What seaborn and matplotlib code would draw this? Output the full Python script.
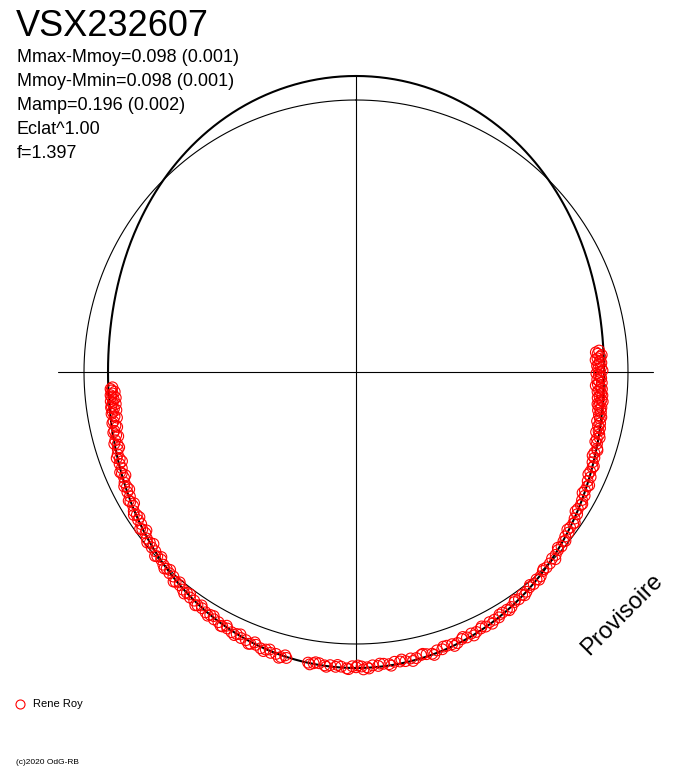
import numpy as np
import pandas as pd
import matplotlib.pyplot as plt
import seaborn as sns

etoile = 'VSX232607'
infos = ['Mmax-Mmoy=0.098 (0.001)', 'Mmoy-Mmin=0.098 (0.001)', 'Mamp=0.196 (0.002)',
         'Eclat^1.00', 'f=1.397']
mmax_mmoy = 0.098
mmoy_mmin = 0.098
observateur = 'Rene Roy'
copyright_txt = '(c)2020 OdG-RB'

# phase (0 en haut, sens horaire) et ecart a la magnitude moyenne (positif = plus brillant)
phases = [
    0.236, 0.238, 0.240, 0.241, 0.243, 0.245, 0.247, 0.248, 0.250, 0.252,
    0.254, 0.256, 0.258, 0.260, 0.262, 0.264, 0.266, 0.268, 0.270, 0.272,
    0.274, 0.276, 0.278, 0.280, 0.283, 0.285, 0.288, 0.290, 0.293, 0.296,
    0.299, 0.302, 0.305, 0.308, 0.311, 0.314, 0.317, 0.320, 0.323, 0.326,
    0.329, 0.332, 0.335, 0.338, 0.341, 0.344, 0.347, 0.350, 0.353, 0.356,
    0.359, 0.362, 0.365, 0.368, 0.371, 0.374, 0.377, 0.380, 0.383, 0.386,
    0.389, 0.392, 0.395, 0.398, 0.401, 0.404, 0.407, 0.410, 0.413, 0.416,
    0.419, 0.422, 0.425, 0.428, 0.431, 0.434, 0.437, 0.440, 0.443, 0.446,
    0.449, 0.452, 0.455, 0.458, 0.461, 0.464, 0.467, 0.470, 0.473, 0.476,
    0.479, 0.482, 0.485, 0.488, 0.491, 0.494, 0.496, 0.497, 0.500, 0.502,
    0.505, 0.508, 0.511, 0.514, 0.517, 0.520, 0.523, 0.526,
    0.538, 0.541, 0.544, 0.547, 0.550, 0.553, 0.556, 0.559, 0.562, 0.565,
    0.568, 0.571, 0.574, 0.577, 0.580, 0.583, 0.586, 0.589, 0.592, 0.595,
    0.598, 0.601, 0.604, 0.607, 0.610, 0.613, 0.616, 0.619, 0.622, 0.625,
    0.628, 0.631, 0.634, 0.637, 0.640, 0.643, 0.646, 0.649, 0.652, 0.655,
    0.658, 0.661, 0.664, 0.667, 0.670, 0.673, 0.676, 0.679, 0.682, 0.685,
    0.688, 0.691, 0.694, 0.697, 0.700, 0.703, 0.706, 0.709, 0.712, 0.715,
    0.718, 0.721, 0.724, 0.726, 0.728, 0.730, 0.732, 0.734, 0.736, 0.738,
    0.740,
    # deuxieme serie de nuits
    0.237, 0.239, 0.242, 0.244, 0.246, 0.249, 0.251, 0.253, 0.255, 0.257,
    0.259, 0.261, 0.263, 0.265, 0.267, 0.269, 0.271, 0.273, 0.275, 0.279,
    0.282, 0.286, 0.289, 0.292, 0.295, 0.300, 0.304, 0.310, 0.316, 0.322,
    0.328, 0.334, 0.340, 0.346, 0.352, 0.358, 0.364, 0.370, 0.379, 0.385,
    0.391, 0.397, 0.403, 0.409, 0.415, 0.421, 0.427, 0.433, 0.439, 0.445,
    0.451, 0.457, 0.463, 0.469, 0.475, 0.481, 0.487, 0.493, 0.499, 0.504,
    0.510, 0.516, 0.522, 0.525,
    0.539, 0.542, 0.548, 0.551, 0.557, 0.560, 0.566, 0.569, 0.575, 0.578,
    0.584, 0.587, 0.593, 0.596, 0.602, 0.605, 0.611, 0.614, 0.620, 0.623,
    0.629, 0.632, 0.638, 0.641, 0.647, 0.650, 0.656, 0.659, 0.665, 0.668,
    0.674, 0.677, 0.683, 0.686, 0.692, 0.695, 0.701, 0.704, 0.708, 0.711,
    0.714, 0.717, 0.720, 0.723, 0.725, 0.727, 0.729, 0.731, 0.733, 0.735,
    0.737, 0.739,
]
delta_mag = [
    -0.114, -0.121, -0.111, -0.123, -0.114, -0.120, -0.110, -0.122, -0.115, -0.119,
    -0.109, -0.117, -0.122, -0.110, -0.115, -0.106, -0.111, -0.102, -0.107, -0.111,
    -0.102, -0.097, -0.103, -0.097, -0.092, -0.098, -0.091, -0.085, -0.090, -0.084,
    -0.077, -0.083, -0.076, -0.077, -0.069, -0.071, -0.061, -0.065, -0.057, -0.058,
    -0.049, -0.050, -0.044, -0.046, -0.037, -0.036, -0.029, -0.030, -0.023, -0.024,
    -0.017, -0.010, -0.011, -0.005, -0.006, 0.002, 0.004, 0.004, 0.014, 0.012,
    0.019, 0.018, 0.025, 0.024, 0.031, 0.030, 0.040, 0.039, 0.039, 0.049,
    0.048, 0.047, 0.056, 0.054, 0.059, 0.056, 0.064, 0.062, 0.071, 0.068,
    0.067, 0.075, 0.073, 0.081, 0.077, 0.075, 0.083, 0.080, 0.087, 0.085,
    0.083, 0.090, 0.086, 0.093, 0.089, 0.096, 0.104, 0.092, 0.095, 0.091,
    0.100, 0.094, 0.096, 0.091, 0.094, 0.088, 0.091, 0.092,
    0.091, 0.093, 0.086, 0.088, 0.081, 0.083, 0.076, 0.080, 0.073, 0.073,
    0.065, 0.067, 0.061, 0.063, 0.055, 0.054, 0.046, 0.047, 0.041, 0.041,
    0.033, 0.033, 0.025, 0.025, 0.019, 0.019, 0.009, 0.010, 0.004, 0.002,
    -0.006, -0.004, -0.012, -0.011, -0.018, -0.019, -0.028, -0.027, -0.036, -0.035,
    -0.042, -0.040, -0.049, -0.048, -0.057, -0.056, -0.064, -0.063, -0.070, -0.069,
    -0.077, -0.075, -0.083, -0.081, -0.088, -0.093, -0.089, -0.098, -0.095, -0.104,
    -0.100, -0.108, -0.104, -0.111, -0.103, -0.109, -0.115, -0.107, -0.113, -0.109,
    -0.114,
    # deuxieme serie de nuits
    -0.128, -0.105, -0.131, -0.108, -0.126, -0.104, -0.129, -0.112, -0.125, -0.106,
    -0.130, -0.104, -0.121, -0.100, -0.118, -0.096, -0.116, -0.098, -0.110, -0.092,
    -0.106, -0.088, -0.100, -0.080, -0.093, -0.074, -0.086, -0.066, -0.074, -0.052,
    -0.062, -0.041, -0.049, -0.026, -0.034, -0.012, -0.018, 0.006, 0.000, 0.020,
    0.012, 0.032, 0.024, 0.046, 0.040, 0.058, 0.048, 0.068, 0.056, 0.078,
    0.066, 0.088, 0.072, 0.092, 0.078, 0.097, 0.084, 0.101, 0.088, 0.103,
    0.088, 0.099, 0.086, 0.098,
    0.082, 0.098, 0.076, 0.090, 0.068, 0.083, 0.060, 0.073, 0.052, 0.064,
    0.043, 0.054, 0.032, 0.046, 0.022, 0.034, 0.010, 0.024, -0.002, 0.010,
    -0.014, 0.002, -0.026, -0.010, -0.038, -0.021, -0.046, -0.032, -0.058, -0.044,
    -0.068, -0.055, -0.079, -0.064, -0.088, -0.072, -0.096, -0.081, -0.105, -0.089,
    -0.110, -0.094, -0.117, -0.098, -0.120, -0.100, -0.121, -0.102, -0.124, -0.104,
    -0.122, -0.106,
]

W, H = 688, 768
CX, CY = 356, 372      # centre du diagramme (px)
R0 = 272               # rayon de la magnitude moyenne (px)
ECH = 245              # px par magnitude

sns.set_style('white')
plt.rcParams['font.family'] = ['Liberation Sans', 'DejaVu Sans']

df = pd.DataFrame({'phase': phases, 'dm': delta_mag})
ang = 2 * np.pi * df['phase']
rayon = R0 + ECH * df['dm']
df['x'] = rayon * np.sin(ang)
df['y'] = rayon * np.cos(ang)

# courbe ajustee (deux maxima, deux minima)
t = np.linspace(0, 1, 721)
c = np.cos(4 * np.pi * t)
dm_fit = np.where(c > 0, mmax_mmoy * c, mmoy_mmin * c)
r_fit = R0 + ECH * dm_fit
fit = pd.DataFrame({'x': r_fit * np.sin(2 * np.pi * t), 'y': r_fit * np.cos(2 * np.pi * t)})
moy = pd.DataFrame({'x': R0 * np.sin(2 * np.pi * t), 'y': R0 * np.cos(2 * np.pi * t)})

fig = plt.figure(figsize=(W / 100, H / 100), dpi=100)
ax = fig.add_axes([0, 0, 1, 1])
ax.set_xlim(-CX, W - CX)
ax.set_ylim(-(H - CY), CY)
ax.axis('off')

ext = R0 + ECH * max(mmax_mmoy, mmoy_mmin)
ax.plot([-ext - 2, ext + 1], [0, 0], color='black', lw=0.8)
ax.plot([0, 0], [ext, -ext - 2], color='black', lw=0.8)

sns.lineplot(data=moy, x='x', y='y', sort=False, estimator=None, color='black', lw=0.8, ax=ax)
sns.lineplot(data=fit, x='x', y='y', sort=False, estimator=None, color='black', lw=1.5, ax=ax)
sns.scatterplot(data=df, x='x', y='y', marker='o', s=60, color='red',
                facecolors='none', edgecolor='red', linewidth=0.8, zorder=3, ax=ax)

fig.text(16 / W, 1 - 36 / H, etoile, fontsize=26, va='baseline', color='black')
for i, ligne in enumerate(infos):
    fig.text(17 / W, 1 - (61.5 + 24 * i) / H, ligne, fontsize=13, va='baseline', color='black')

fig.text(622 / W, 1 - 615 / H, 'Provisoire', fontsize=17, rotation=45,
         ha='center', va='center', rotation_mode='anchor', color='black')

ax.plot([20 / W], [1 - 704 / H], marker='o', ms=6.5, mfc='none', mec='red', mew=0.8,
        transform=fig.transFigure, clip_on=False)
fig.text(33 / W, 1 - 704 / H, observateur, fontsize=8, va='center', color='black')
fig.text(16 / W, 1 - 762 / H, copyright_txt, fontsize=6, va='center', color='black')

plt.savefig('out.png', dpi=100)
